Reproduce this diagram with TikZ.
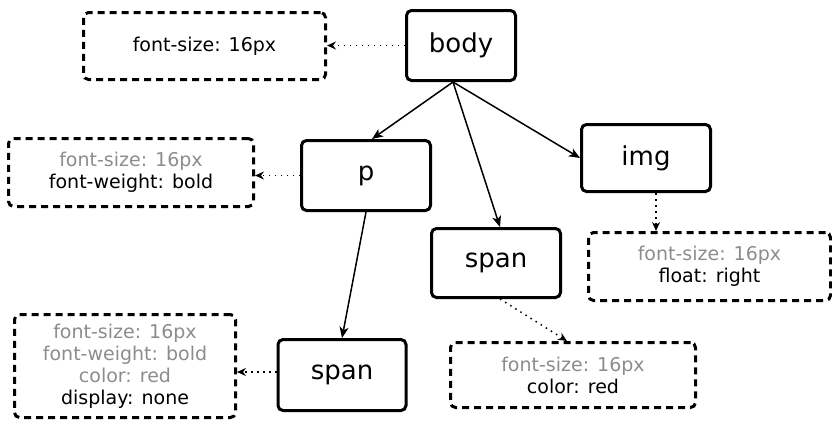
\documentclass[tikz,border=0pt]{standalone}
\usepackage{fontspec}
\setmainfont{DejaVu Sans}
\usepackage{xcolor}
\usepackage{tikz}
\usetikzlibrary{arrows.meta, positioning}
\definecolor{inheritgray}{RGB}{140,140,140}
\newcommand{\inherited}[1]{\textcolor{inheritgray}{#1}}
\tikzset{
  element/.style={
    rectangle, rounded corners=5pt, minimum width=129pt, minimum height=70pt,
    draw=black, line width=3pt, fill=white, text centered,
    font=\fontsize{26}{30}\selectfont
  },
  rulebox/.style={
    rectangle, rounded corners=5pt, draw=black, line width=3pt,
    dash pattern=on 7pt off 5pt, align=center, inner sep=0pt,
    font=\fontsize{19}{22}\selectfont
  },
  arrow/.style={-{Stealth[length=11pt,width=9pt,inset=3pt]}, line width=1.5pt},
  dotarrow/.style={-{Stealth[length=9pt,width=8pt,inset=3pt]}, line width=1.5pt,
    dash pattern=on 1.5pt off 4.5pt}
}

\begin{document}
\begin{tikzpicture}[x=1pt, y=1pt]
  \useasboundingbox (0,0) rectangle (832,-421);

  % Elements
  \node[element, minimum width=109pt] (body) at (461,-45.5) {body};
  \node[element] (p) at (366,-175.5) {p};
  \node[element, minimum height=67pt] (img) at (646,-158) {img};
  \node[element, minimum height=69pt] (span1) at (496,-263) {span};
  \node[element, minimum width=128pt, minimum height=71pt] (span2) at (342,-375) {span};

  % Computed styles
  \node[rulebox, minimum width=242pt, minimum height=67pt] (bodycss) at (204.5,-46)
    {font-size: 16px};
  \node[rulebox, minimum width=245pt, minimum height=68pt] (pcss) at (131,-172.5)
    {\inherited{font-size: 16px}\\font-weight: bold};
  \node[rulebox, minimum width=242pt, minimum height=68pt] (imgcss) at (709.5,-266.5)
    {\inherited{font-size: 16px}\\float: right};
  \node[rulebox, minimum width=245pt, minimum height=65pt] (span1css) at (573,-375)
    {\inherited{font-size: 16px}\\color: red};
  \node[rulebox, minimum width=221pt, minimum height=103pt] (span2css) at (125,-366)
    {\inherited{font-size: 16px}\\\inherited{font-weight: bold}\\\inherited{color: red}\\display: none};

  % Tree edges
  \coordinate (bodyout) at ([xshift=-8pt]body.south);
  \draw[arrow] (bodyout) -- ([xshift=6pt]p.north);
  \draw[arrow] (bodyout) -- ([xshift=4pt]span1.north);
  \draw[arrow] (bodyout) -- (img.west);
  \draw[arrow] (p.south) -- (span2.north);

  % Style links
  \draw[dotarrow] (body.west) -- (body.west -| bodycss.east);
  \draw[dotarrow] (p.west) -- (p.west -| pcss.east);
  \draw[dotarrow] ([xshift=10pt]img.south) -- ([xshift=10pt]img.south |- imgcss.north);
  \draw[dotarrow] ([xshift=4pt]span1.south) -- ([xshift=-6pt]span1css.north);
  \draw[dotarrow] ([yshift=3pt]span2.west) -- ([yshift=3pt]span2.west -| span2css.east);
\end{tikzpicture}
\end{document}
